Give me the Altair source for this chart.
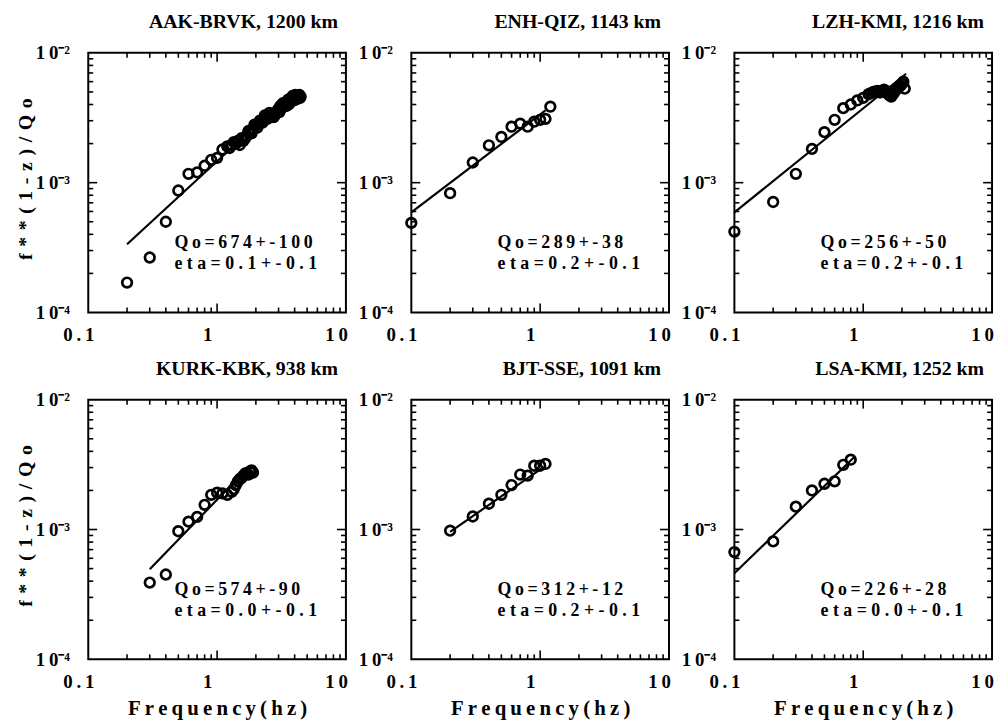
import altair as alt
import pandas as pd

# ---------------- data ----------------
TITLES = ["AAK-BRVK, 1200 km", "ENH-QIZ, 1143 km", "LZH-KMI, 1216 km",
          "KURK-KBK, 938 km", "BJT-SSE, 1091 km", "LSA-KMI, 1252 km"]
QO_TEXT = ["Qo=674+-100", "Qo=289+-38", "Qo=256+-50",
           "Qo=574+-90", "Qo=312+-12", "Qo=226+-28"]
ETA_TEXT = ["eta=0.1+-0.1", "eta=0.2+-0.1", "eta=0.2+-0.1",
            "eta=0.0+-0.1", "eta=0.2+-0.1", "eta=0.0+-0.1"]

aak_f = [0.2, 0.3, 0.4, 0.5, 0.6, 0.7, 0.8, 0.9, 1.0, 1.1, 1.2, 1.3, 1.4, 1.5,
         1.6, 1.7, 1.8, 1.9, 2.0, 2.1, 2.2, 2.3, 2.4, 2.5, 2.6, 2.7, 2.8, 2.9,
         3.0, 3.1, 3.2, 3.3, 3.4, 3.5, 3.6, 3.7, 3.8, 3.9, 4.0, 4.1, 4.2, 4.3, 4.4]
aak_v = [1.7e-4, 2.65e-4, 5.0e-4, 8.7e-4, 1.17e-3, 1.2e-3, 1.35e-3, 1.5e-3,
         1.55e-3, 1.8e-3, 1.9e-3, 1.95e-3, 2.0e-3, 1.95e-3, 2.1e-3, 2.3e-3,
         2.45e-3, 2.6e-3, 2.75e-3, 2.85e-3, 3.0e-3, 3.1e-3, 3.25e-3, 3.3e-3,
         3.2e-3, 3.35e-3, 3.3e-3, 3.5e-3, 3.7e-3, 3.9e-3, 4.0e-3, 3.85e-3,
         4.1e-3, 4.2e-3, 4.0e-3, 4.3e-3, 4.5e-3, 4.4e-3, 4.6e-3, 4.5e-3,
         4.7e-3, 4.6e-3, 4.5e-3]
# densely packed points inside the black cluster (estimated)
aak_f2 = [1.25, 1.35, 1.45, 1.55, 1.65, 1.75, 1.85, 1.95, 2.05, 2.15, 2.25,
          2.35, 2.45, 2.55, 2.65, 2.75, 2.85, 2.95, 3.05, 3.15, 3.25, 3.35,
          3.45, 3.55, 3.65, 3.75, 3.85, 3.95, 4.05, 4.15, 4.25, 4.35, 4.45]
aak_v2 = [1.85e-3, 2.05e-3, 2.1e-3, 2.2e-3, 2.2e-3, 2.5e-3, 2.4e-3, 2.8e-3,
          2.65e-3, 3.0e-3, 2.9e-3, 3.3e-3, 3.1e-3, 3.45e-3, 3.3e-3, 3.2e-3,
          3.45e-3, 3.6e-3, 3.5e-3, 3.75e-3, 4.1e-3, 4.0e-3, 3.9e-3, 4.35e-3,
          4.2e-3, 4.4e-3, 4.65e-3, 4.3e-3, 4.75e-3, 4.4e-3, 4.55e-3, 4.75e-3,
          4.6e-3]
aak_fit_f = [0.2, 4.0]
aak_fit_v = [3.35e-4, 5.2e-3]

enh_f = [0.1, 0.2, 0.3, 0.4, 0.5, 0.6, 0.7, 0.8, 0.9, 1.0, 1.1, 1.2]
enh_v = [4.9e-4, 8.3e-4, 1.43e-3, 1.94e-3, 2.25e-3, 2.7e-3, 2.85e-3, 2.7e-3,
         2.95e-3, 3.05e-3, 3.1e-3, 3.85e-3]
enh_f2 = []
enh_v2 = []
enh_fit_f = [0.1, 1.1]
enh_fit_v = [5.9e-4, 3.6e-3]

lzh_f = [0.1, 0.2, 0.3, 0.4, 0.5, 0.6, 0.7, 0.8, 0.9, 1.0, 1.1, 1.2, 1.3, 1.4,
         1.5, 1.6, 1.7, 1.8, 1.9, 2.0, 2.1]
lzh_v = [4.2e-4, 7.1e-4, 1.17e-3, 1.82e-3, 2.45e-3, 3.05e-3, 3.75e-3, 4.0e-3,
         4.3e-3, 4.5e-3, 4.8e-3, 5.0e-3, 5.1e-3, 5.05e-3, 5.1e-3, 4.7e-3,
         4.8e-3, 5.2e-3, 5.5e-3, 5.8e-3, 5.3e-3]
lzh_f2 = [1.15, 1.25, 1.35, 1.45, 1.55, 1.65, 1.75, 1.85, 1.95, 2.05]
lzh_v2 = [4.9e-3, 5.05e-3, 4.95e-3, 5.2e-3, 4.85e-3, 4.6e-3, 5.0e-3, 5.4e-3,
          5.6e-3, 6.0e-3]
lzh_fit_f = [0.1, 2.15]
lzh_fit_v = [5.9e-4, 6.9e-3]

kurk_f = [0.3, 0.4, 0.5, 0.6, 0.7, 0.8, 0.9, 1.0, 1.1, 1.2, 1.3, 1.4, 1.5, 1.6,
          1.7, 1.8, 1.9]
kurk_v = [3.9e-4, 4.5e-4, 9.7e-4, 1.15e-3, 1.25e-3, 1.55e-3, 1.85e-3, 1.92e-3,
          1.9e-3, 1.85e-3, 1.95e-3, 2.2e-3, 2.45e-3, 2.6e-3, 2.7e-3, 2.8e-3,
          2.75e-3]
kurk_f2 = [1.35, 1.45, 1.55, 1.65, 1.75, 1.85]
kurk_v2 = [2.05e-3, 2.35e-3, 2.5e-3, 2.7e-3, 2.65e-3, 2.85e-3]
kurk_fit_f = [0.3, 1.8]
kurk_fit_v = [4.95e-4, 3.1e-3]

bjt_f = [0.2, 0.3, 0.4, 0.5, 0.6, 0.7, 0.8, 0.9, 1.0, 1.1]
bjt_v = [9.8e-4, 1.26e-3, 1.58e-3, 1.85e-3, 2.2e-3, 2.65e-3, 2.6e-3, 3.1e-3,
         3.1e-3, 3.2e-3]
bjt_f2 = []
bjt_v2 = []
bjt_fit_f = [0.2, 1.05]
bjt_fit_v = [9.6e-4, 3.0e-3]

lsa_f = [0.1, 0.2, 0.3, 0.4, 0.5, 0.6, 0.7, 0.8]
lsa_v = [6.7e-4, 8.1e-4, 1.5e-3, 2.0e-3, 2.25e-3, 2.35e-3, 3.15e-3, 3.45e-3]
lsa_f2 = []
lsa_v2 = []
lsa_fit_f = [0.1, 0.85]
lsa_fit_v = [4.6e-4, 3.6e-3]

PTS_F = [aak_f + aak_f2, enh_f + enh_f2, lzh_f + lzh_f2,
         kurk_f + kurk_f2, bjt_f + bjt_f2, lsa_f + lsa_f2]
PTS_V = [aak_v + aak_v2, enh_v + enh_v2, lzh_v + lzh_v2,
         kurk_v + kurk_v2, bjt_v + bjt_v2, lsa_v + lsa_v2]
FIT_F = [aak_fit_f, enh_fit_f, lzh_fit_f, kurk_fit_f, bjt_fit_f, lsa_fit_f]
FIT_V = [aak_fit_v, enh_fit_v, lzh_fit_v, kurk_fit_v, bjt_fit_v, lsa_fit_v]

# axis tick positions (log-axis minor/major ticks)
X_MINOR = [0.2, 0.3, 0.4, 0.5, 0.6, 0.7, 0.8, 0.9, 2, 3, 4, 5, 6, 7, 8, 9]
X_MAJOR = [1]
Y_MINOR = [2e-4, 3e-4, 4e-4, 5e-4, 6e-4, 7e-4, 8e-4, 9e-4,
           2e-3, 3e-3, 4e-3, 5e-3, 6e-3, 7e-3, 8e-3, 9e-3]
Y_MAJOR = [1e-3]
X_LABEL_VALUES = [0.1, 1, 10]
Y_LABEL_VALUES = [1e-4, 1e-3, 1e-2]

# ---------------- styling ----------------
W, H = 260, 262
SERIF = "Liberation Serif"
TS = "\u2009"


def sp(s, sep=TS):
    return sep.join(list(s))


x_scale = alt.Scale(type="log", domain=[0.1, 10], nice=False)
y_scale = alt.Scale(type="log", domain=[1e-4, 1e-2], nice=False)

x_label_expr = ("datum.value < 0.5 ? '" + sp("0.1") + "' : (datum.value < 5 ? '1' : '"
                + sp("10") + "')")
y_label_expr = ("datum.value < 5e-4 ? '1" + TS + "0\u207b\u2074' : (datum.value < 5e-3 ? '1"
                + TS + "0\u207b\u00b3' : '1" + TS + "0\u207b\u00b2')")


def make_x_axis(show_title):
    kw = dict(values=X_LABEL_VALUES, labelExpr=x_label_expr, ticks=False,
              domain=False, grid=False, labelFont=SERIF, labelFontWeight="bold",
              labelFontSize=19, labelColor="black", labelPadding=13, labelOffset=-10,
              labelFlush=False, labelOverlap=False)
    if show_title:
        kw.update(title=sp("Frequency(hz)"), titleFont=SERIF, titleFontWeight="bold",
                  titleFontSize=21, titleColor="black", titleX=W / 2, titleY=56,
                  titleAlign="center", titleBaseline="alphabetic")
    else:
        kw.update(title=None)
    return alt.Axis(**kw)


def make_y_axis(show_title):
    kw = dict(values=Y_LABEL_VALUES, labelExpr=y_label_expr, ticks=False,
              domain=False, grid=False, labelFont=SERIF, labelFontWeight="bold",
              labelFontSize=19, labelColor="black", labelPadding=19,
              labelFlush=False, labelOverlap=False)
    if show_title:
        kw.update(title=sp("f**(1-z)/Qo", "\u2004"), titleFont=SERIF,
                  titleFontWeight="bold", titleFontSize=20, titleColor="black",
                  titleX=-63, titleY=H / 2 - 4, titleAngle=270, titleAlign="center",
                  titleBaseline="middle")
    else:
        kw.update(title=None)
    return alt.Axis(**kw)


def panel(i, ytitle, xtitle):
    xa = make_x_axis(xtitle)
    ya = make_y_axis(ytitle)
    X = lambda: alt.X("f:Q", scale=x_scale, axis=xa)
    Y = lambda: alt.Y("v:Q", scale=y_scale, axis=ya)

    pts = pd.DataFrame({"f": PTS_F[i], "v": PTS_V[i]})
    fit = pd.DataFrame({"f": FIT_F[i], "v": FIT_V[i]})
    xmin = pd.DataFrame({"f": X_MINOR})
    xmaj = pd.DataFrame({"f": X_MAJOR})
    ymin = pd.DataFrame({"v": Y_MINOR})
    ymaj = pd.DataFrame({"v": Y_MAJOR})
    txt = pd.DataFrame({"qo": [QO_TEXT[i]], "eta": [ETA_TEXT[i]]})

    layers = []
    rule = dict(color="black", strokeWidth=1.6)
    for df, ln in ((xmin, 5), (xmaj, 9)):
        layers.append(alt.Chart(df).mark_rule(**rule).encode(
            x=X(), y=alt.value(H), y2=alt.value(H - ln)))
        layers.append(alt.Chart(df).mark_rule(**rule).encode(
            x=X(), y=alt.value(0), y2=alt.value(ln)))
    for df, ln in ((ymin, 5), (ymaj, 9)):
        layers.append(alt.Chart(df).mark_rule(**rule).encode(
            y=Y(), x=alt.value(0), x2=alt.value(ln)))
        layers.append(alt.Chart(df).mark_rule(**rule).encode(
            y=Y(), x=alt.value(W), x2=alt.value(W - ln)))

    layers.append(alt.Chart(fit).mark_line(color="black", strokeWidth=2.2).encode(
        x=X(), y=Y()))
    layers.append(alt.Chart(pts).mark_point(
        shape="circle", filled=False, color="black", strokeWidth=2.7, size=95,
        opacity=1).encode(x=X(), y=Y()))

    tstyle = dict(font=SERIF, fontWeight="bold", fontSize=18, color="black",
                  align="left", baseline="alphabetic")
    layers.append(alt.Chart(txt).transform_calculate(
        lbl="join(split(datum.qo, ''), '\u2009')").mark_text(**tstyle).encode(
        text="lbl:N", x=alt.value(87), y=alt.value(197)))
    layers.append(alt.Chart(txt).transform_calculate(
        lbl="join(split(datum.eta, ''), ' ')").mark_text(**tstyle).encode(
        text="lbl:N", x=alt.value(87), y=alt.value(218)))

    return alt.layer(*layers).properties(
        width=W, height=H,
        title=alt.TitleParams(text=TITLES[i], anchor="end", dx=-8, offset=-4,
                              frame="group", baseline="alphabetic", font=SERIF,
                              fontWeight="bold", fontSize=20, color="black"))


panels = [panel(0, True, False), panel(1, False, False), panel(2, False, False),
          panel(3, True, True), panel(4, False, True), panel(5, False, True)]

chart = alt.concat(*panels, columns=3, spacing={"row": 88, "column": 66},
                   bounds="flush").properties(
    padding={"left": 7, "top": 0, "right": 2, "bottom": 0},
    background="white",
).configure_view(stroke="black", strokeWidth=2)

chart.save("out.html", embed_options={"renderer": "svg", "actions": False})
